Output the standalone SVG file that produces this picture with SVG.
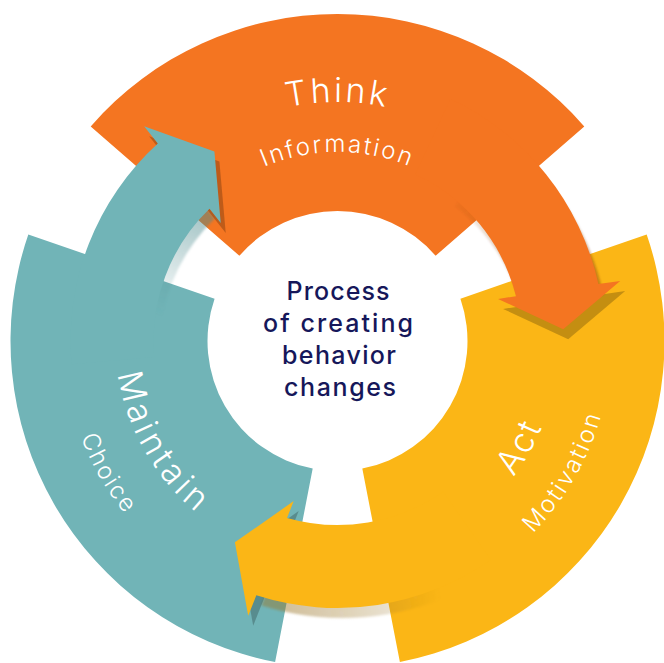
<svg xmlns="http://www.w3.org/2000/svg" xmlns:xlink="http://www.w3.org/1999/xlink" width="664" height="663" viewBox="0 0 664 663">
  <style>
    .lbl { font-family: Inter, "Open Sans", "Noto Sans", sans-serif; fill: #ffffff; font-weight: 300; }
    .title { font-size: 34px; }
    .sub { font-size: 24px; }
    .core { font-family: Inter, "Open Sans", "Noto Sans", sans-serif; font-size: 25px; font-weight: 500; fill: #16175a; text-anchor: middle; }
    .orange { fill: #f47521; }
    .yellow { fill: #fbb616; }
    .teal { fill: #71b4b7; }
    .headShadow { fill: #000000; fill-opacity: 0.22; }
  </style>
  <defs>
    <!-- One ring segment, drawn for the top position (centre at 270deg); r 130..327, 221deg..319deg -->
    <path id="band" d="M -98.11 -85.29 A 130 130 0 0 1 98.11 -85.29 L 246.79 -214.53 A 327 327 0 0 0 -246.79 -214.53 Z"/>
    <!-- Curved arrow leaving the segment clockwise: shaft r 184..267 (starting inside its own segment) plus a flat triangular head -->
    <path id="arrow" d="M 77.76 -166.76 A 184 184 0 0 1 178.48 -44.76 L 160.56 -42.12 L 225.69 -11.83 L 282.69 -60.09 L 260.88 -56.88 A 267 267 0 0 0 112.84 -241.98 Z"/>
    <path id="shaft" d="M 112.34 -145.07 A 184 184 0 0 1 178.48 -44.76 L 260.88 -56.88 A 267 267 0 0 0 163.02 -211.46 Z"/>
    <path id="head" d="M 160.56 -42.12 L 225.69 -11.83 L 282.69 -60.09 Z"/>

    <!-- shaft shadows fade out towards the segment they leave -->
    <linearGradient id="shO" gradientUnits="userSpaceOnUse" x1="129.05" y1="-184.31" x2="217.32" y2="-58.23">
      <stop offset="0" stop-color="#8a4310" stop-opacity="0"/>
      <stop offset="1" stop-color="#8a4310" stop-opacity="0.45"/>
    </linearGradient>
    <linearGradient id="shY" gradientUnits="userSpaceOnUse" x1="129.05" y1="-184.31" x2="217.32" y2="-58.23">
      <stop offset="0" stop-color="#9a7424" stop-opacity="0"/>
      <stop offset="0.35" stop-color="#9a7424" stop-opacity="0.22"/>
      <stop offset="1" stop-color="#9a7424" stop-opacity="0.45"/>
    </linearGradient>
    <linearGradient id="shT" gradientUnits="userSpaceOnUse" x1="129.05" y1="-184.31" x2="217.32" y2="-58.23">
      <stop offset="0.2" stop-color="#4b8a8d" stop-opacity="0"/>
      <stop offset="1" stop-color="#4b8a8d" stop-opacity="0.55"/>
    </linearGradient>
    <filter id="soft" x="-20%" y="-20%" width="140%" height="140%">
      <feGaussianBlur stdDeviation="0.8"/>
    </filter>

    <!-- label baselines (relative to the ring centre) -->
    <path id="arcThink" d="M -169 -169 A 239 239 0 0 1 169 -169"/>
    <path id="arcInfo" d="M -133.64 -133.64 A 189 189 0 0 1 133.64 -133.64"/>
    <path id="arcAct" d="M 57.46 214.44 A 222 222 0 0 0 214.44 -57.46"/>
    <path id="arcMotiv" d="M 70.92 264.66 A 274 274 0 0 0 264.66 -70.92"/>
    <path id="arcMaint" d="M -214.44 -57.46 A 222 222 0 0 0 -57.46 214.44"/>
    <path id="arcChoice" d="M -264.66 -70.92 A 274 274 0 0 0 -70.92 264.66"/>
  </defs>

  <rect width="664" height="663" fill="#ffffff"/>

  <g transform="translate(337.5 341)">
    <!-- stage segments -->
    <g id="think">
      <use xlink:href="#band" class="orange"/>
      <text class="lbl title" letter-spacing="2.8"><textPath xlink:href="#arcThink" startOffset="50%" text-anchor="middle">Think</textPath></text>
      <text class="lbl sub" letter-spacing="2.2"><textPath xlink:href="#arcInfo" startOffset="50%" text-anchor="middle">Information</textPath></text>
    </g>
    <g id="act">
      <use xlink:href="#band" class="yellow" transform="rotate(120)"/>
      <text class="lbl title" letter-spacing="2.5"><textPath xlink:href="#arcAct" startOffset="50%" text-anchor="middle">Act</textPath></text>
      <text class="lbl sub" letter-spacing="2.3"><textPath xlink:href="#arcMotiv" startOffset="50%" text-anchor="middle">Motivation</textPath></text>
    </g>
    <g id="maintain">
      <use xlink:href="#band" class="teal" transform="rotate(240)"/>
      <text class="lbl title" letter-spacing="4"><textPath xlink:href="#arcMaint" startOffset="50%" text-anchor="middle">Maintain</textPath></text>
      <text class="lbl sub" letter-spacing="2"><textPath xlink:href="#arcChoice" startOffset="50%" text-anchor="middle">Choice</textPath></text>
    </g>

    <!-- curved arrows from one stage to the next -->
    <g id="connectors">
      <use xlink:href="#shaft" transform="translate(5 10)" fill="url(#shO)" filter="url(#soft)"/>
      <use xlink:href="#shaft" transform="translate(5 10) rotate(120)" fill="url(#shY)" filter="url(#soft)"/>
      <use xlink:href="#shaft" transform="translate(5 10) rotate(240)" fill="url(#shT)" filter="url(#soft)"/>
      <use xlink:href="#head" class="headShadow" transform="translate(5 10)"/>
      <use xlink:href="#head" class="headShadow" transform="translate(5 10) rotate(120)"/>
      <use xlink:href="#head" class="headShadow" transform="translate(5 10) rotate(240)"/>
      <use xlink:href="#arrow" class="orange"/>
      <use xlink:href="#arrow" class="yellow" transform="rotate(120)"/>
      <use xlink:href="#arrow" class="teal" transform="rotate(240)"/>
    </g>
  </g>

  <g id="center">
    <text class="core" x="338" y="300" textLength="103">Process</text>
    <text class="core" x="338" y="332" textLength="150">of creating</text>
    <text class="core" x="339" y="364" textLength="114">behavior</text>
    <text class="core" x="340" y="396" textLength="112">changes</text>
  </g>
</svg>
